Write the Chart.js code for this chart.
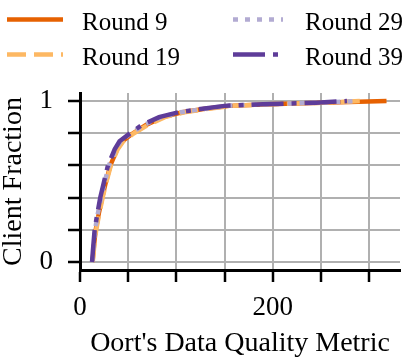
<!DOCTYPE html>
<html>
<head>
<meta charset="utf-8">
<script src="https://cdn.jsdelivr.net/npm/chart.js"></script>
<style>
  body { margin: 0; background: #fff; }
</style>
</head>
<body>
<canvas id="myChart" width="415" height="358"></canvas>
<script>
// CDF levels shared by every round, and the metric value reached at each level
const fraction = [0, 0.1, 0.2, 0.3, 0.4, 0.5, 0.6, 0.7, 0.75, 0.8, 0.85, 0.9, 0.93, 0.95, 0.97, 0.98, 0.99, 1.0];
const round9  = [13.0, 14.5, 16.3, 19.5, 23.0, 27.0, 31.5, 38.5, 44, 55, 68, 86, 106, 128, 155, 195, 250, 318];
const round19 = [13.2, 14.8, 16.8, 20.0, 23.5, 27.5, 32.0, 39.0, 45, 56, 70, 88, 108, 130, 158, 198, 252, 292];
const round29 = [12.6, 14.0, 15.6, 18.5, 21.8, 25.8, 30.0, 37.0, 42, 53, 66, 84, 104, 127, 152, 192, 247, 288];
const round39 = [12.5, 13.8, 15.2, 18.0, 21.0, 25.0, 29.0, 36.0, 41, 52, 64, 82, 102, 125, 150, 190, 245, 277];

const seriesNames = ['Round 9', 'Round 19', 'Round 29', 'Round 39'];
const seriesColors = ['#e66101', '#fdb863', '#b2abd2', '#5e3c99'];
const seriesDash = [[], [19, 8], [5, 7], [32, 8, 5, 8]];

const xTicks = [0, 50, 100, 150, 200, 250, 300];
const xLabeled = [0, 200];
const yTicks = [0, 0.2, 0.4, 0.6, 0.8, 1.0];
const yLabeled = [0, 1];

const FONT = '"Liberation Serif", "Times New Roman", serif';

function toPoints(xs){
	return xs.map((x,i)=>({x:x, y:fraction[i]}));
}

const allRounds = [round9, round19, round29, round39];
const datasets = allRounds.map((xs,i)=>({
	label: seriesNames[i],
	data: toPoints(xs),
	borderColor: seriesColors[i],
	backgroundColor: seriesColors[i],
	borderDash: seriesDash[i],
	borderWidth: 4.5,
	borderCapStyle: 'butt',
	pointRadius: 0,
	tension: 0,
	fill: false,
	order: allRounds.length - i   // later rounds on top, like the original
}));

// legend drawn by hand: 2 columns x 2 rows with the line styles
const legendPlugin = {
	id: 'lineLegend',
	afterDraw(chart){
		const ctx = chart.ctx;
		const cols = [{x0:7, x1:63, tx:82}, {x0:233, x1:283, tx:305}];
		const rows = [{ly:19.5, ty:30}, {ly:54.5, ty:65}];
		ctx.save();
		chart.data.datasets.forEach((ds,i)=>{
			const c = cols[Math.floor(i/2)];
			const r = rows[i%2];
			ctx.beginPath();
			ctx.lineWidth = ds.borderWidth;
			ctx.strokeStyle = ds.borderColor;
			ctx.lineCap = 'butt';
			ctx.setLineDash(ds.borderDash);
			ctx.moveTo(c.x0, r.ly);
			ctx.lineTo(c.x1, r.ly);
			ctx.stroke();
			ctx.setLineDash([]);
			ctx.fillStyle = '#000';
			ctx.font = '25px ' + FONT;
			ctx.textBaseline = 'alphabetic';
			ctx.textAlign = 'left';
			ctx.fillText(ds.label, c.tx, r.ty);
		});
		ctx.restore();
	}
};

const config = {
	type: 'line',
	data: { datasets: datasets },
	options: {
		responsive: false,
		devicePixelRatio: 1,
		animation: false,
		layout: { padding: { top: 93, right: 15, left: 0, bottom: 0 } },
		plugins: { legend: { display: false }, tooltip: { enabled: false } },
		scales: {
			x: {
				type: 'linear',
				min: 0,
				max: 332,
				afterBuildTicks: (scale)=>{ scale.ticks = xTicks.map(v=>({value:v})); },
				afterFit: (scale)=>{ scale.height = 88; },
				ticks: {
					autoSkip: false,
					maxRotation: 0,
					padding: 10,
					color: '#000',
					font: { family: FONT, size: 27 },
					callback: (v)=> xLabeled.includes(v) ? String(v) : ''
				},
				grid: { color: '#b0b0b0', lineWidth: 2, tickColor: '#000', tickWidth: 2.5, tickLength: 12 },
				border: { display: true, color: '#000', width: 3 },
				title: {
					display: true,
					text: "Oort's Data Quality Metric",
					color: '#000',
					font: { family: FONT, size: 28, lineHeight: 1 },
					padding: { top: 0, bottom: 0 }
				}
			},
			y: {
				type: 'linear',
				min: -0.05,
				max: 1.05,
				afterBuildTicks: (scale)=>{ scale.ticks = yTicks.map(v=>({value:v})); },
				afterFit: (scale)=>{ scale.width = 80; },
				ticks: {
					autoSkip: false,
					padding: 15,
					color: '#000',
					font: { family: FONT, size: 27 },
					callback: (v)=> yLabeled.includes(v) ? String(v) : ''
				},
				grid: { color: '#b0b0b0', lineWidth: 2, tickColor: '#000', tickWidth: 2.5, tickLength: 12 },
				border: { display: true, color: '#000', width: 3 },
				title: {
					display: true,
					text: 'Client Fraction',
					color: '#000',
					font: { family: FONT, size: 28, lineHeight: 1 },
					padding: { top: 0, bottom: 0 }
				}
			}
		}
	},
	plugins: [legendPlugin]
};

const myChart = new Chart(document.getElementById('myChart'), config);
</script>
</body>
</html>
